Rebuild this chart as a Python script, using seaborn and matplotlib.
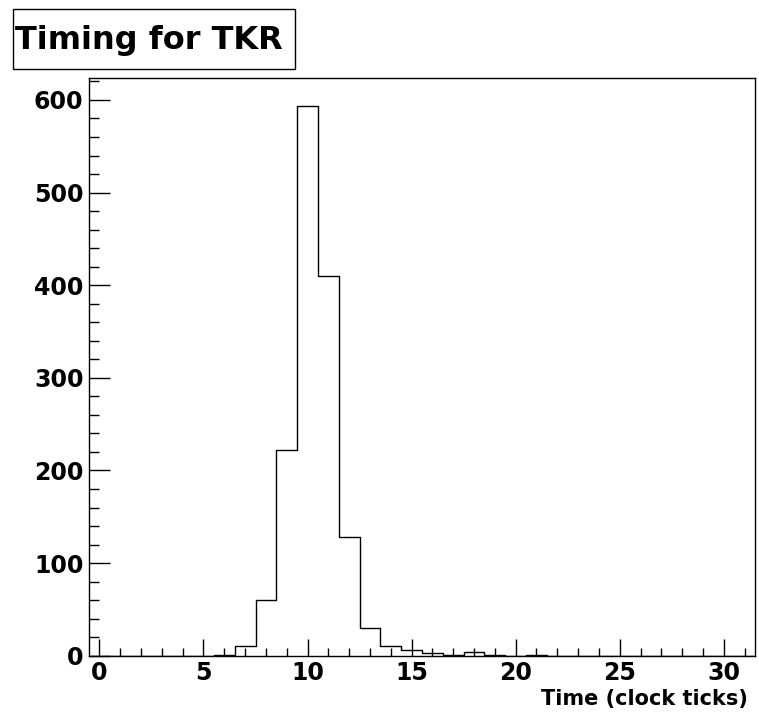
import numpy as np
import pandas as pd
import matplotlib
matplotlib.use("Agg")
import matplotlib.pyplot as plt
from matplotlib.patches import Rectangle
from matplotlib.ticker import MultipleLocator
import seaborn as sns

# Histogram of TKR timing: bin centres (clock ticks) and entries per bin
time_ticks = list(range(32))
entries = [0, 0, 0, 0, 0, 0, 1, 11, 60, 222, 594, 410, 128, 30, 11, 6,
           3, 1, 4, 1, 0, 1, 0, 0, 0, 0, 0, 0, 0, 0, 0, 0]
bin_edges = [b - 0.5 for b in range(33)]
x_major = [0, 5, 10, 15, 20, 25, 30]
y_major = [0, 100, 200, 300, 400, 500, 600]

title_text = "Timing for TKR"
x_label = "Time (clock ticks)"

sns.set_theme(style="white")
plt.rcParams["font.family"] = ["DejaVu Sans"]
plt.rcParams["font.weight"] = "bold"

W, H = 759, 716
fig = plt.figure(figsize=(W / 100, H / 100), dpi=100)
fig.patch.set_facecolor("white")

left, right, top, bottom = 89, 755, 78, 655.7
ax = fig.add_axes([left / W, 1 - bottom / H, (right - left) / W, (bottom - top) / H])

df = pd.DataFrame({"t": time_ticks, "n": entries})
sns.histplot(data=df, x="t", weights="n", bins=bin_edges, element="step",
             fill=False, color="black", linewidth=1.0, ax=ax)

ymax = max(entries) * 1.05
ax.set_xlim(bin_edges[0], bin_edges[-1])
ax.set_ylim(0, ymax)

ax.set_xticks(x_major)
ax.set_yticks(y_major)
ax.xaxis.set_minor_locator(MultipleLocator(1))
ax.yaxis.set_minor_locator(MultipleLocator(20))
ax.tick_params(axis="both", which="both", direction="in", colors="black",
               bottom=True, left=True, top=False, right=False)
ax.tick_params(axis="x", which="major", length=12, width=1, pad=3.5, labelsize=17)
ax.tick_params(axis="x", which="minor", length=6, width=1)
ax.tick_params(axis="y", which="major", length=15, width=1, pad=4, labelsize=17)
ax.tick_params(axis="y", which="minor", length=7.5, width=1)
for lab in ax.get_xticklabels() + ax.get_yticklabels():
    lab.set_fontweight("bold")

for sp in ax.spines.values():
    sp.set_visible(True)
    sp.set_color("black")
    sp.set_linewidth(1.0)

ax.set_xlabel("")
ax.set_ylabel("")
fig.text(748 / W, 1 - 705 / H, x_label, ha="right", va="baseline",
         fontsize=15, fontweight="bold", color="black")

# Title box in the upper-left corner
bx0, bx1, by0, by1 = 13, 295, 9, 69
fig.patches.append(Rectangle((bx0 / W, 1 - by1 / H), (bx1 - bx0) / W, (by1 - by0) / H,
                             transform=fig.transFigure, fill=False,
                             edgecolor="black", linewidth=1.0))
fig.text(15 / W, 1 - 49 / H, title_text,
         ha="left", va="baseline", fontsize=23, fontweight="bold", color="black")

fig.savefig("out.png", dpi=100, facecolor="white")
